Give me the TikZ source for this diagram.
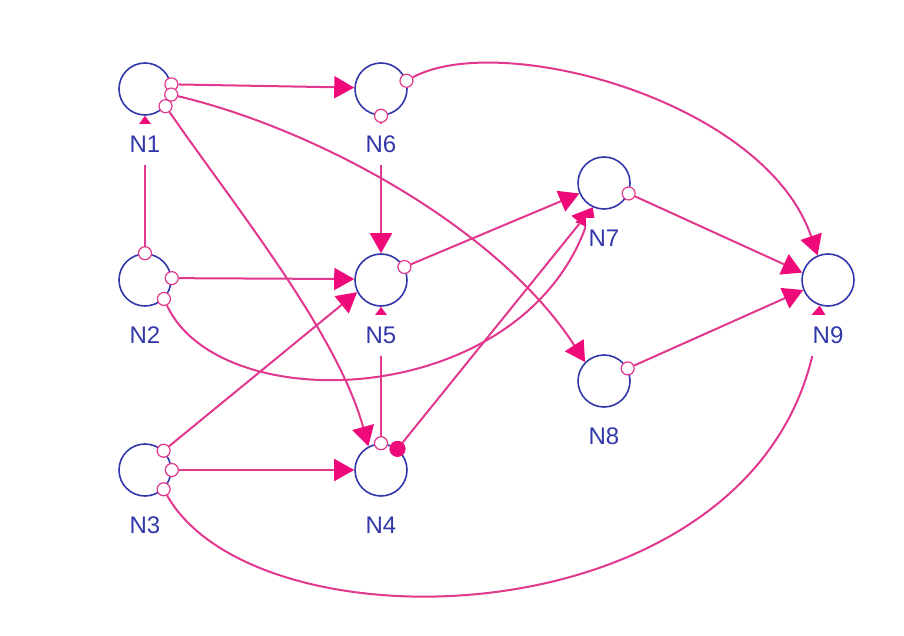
\documentclass[tikz,border=0pt]{standalone}
\usepackage{fontspec}
\setmainfont{Liberation Sans}
\usepackage{xcolor}
\usetikzlibrary{arrows.meta,positioning}
\definecolor{nodeblue}{RGB}{50,56,170}
\definecolor{linkpink}{RGB}{225,55,140}
\definecolor{tippink}{RGB}{238,10,120}

\begin{document}
\begin{tikzpicture}[x=0.5pt, y=-0.5pt,
    var/.style={draw=nodeblue, circle, line width=0.8pt, minimum size=26pt, inner sep=0pt},
    lab/.style={fill=white, text=nodeblue, font=\fontsize{12}{14}\selectfont, inner xsep=1.5pt, inner ysep=6pt},
    port/.style={draw=linkpink, fill=white, circle, line width=0.6pt, minimum size=6.5pt, inner sep=0pt},
    dot/.style={port, fill=tippink, draw=tippink, minimum size=7.5pt},
    arr/.style={-{Triangle[length=10pt, width=11pt, color=tippink]}, draw=linkpink, line width=1pt},
    arrs/.style={-{Triangle[length=5pt, width=7pt, color=tippink]}, draw=linkpink, line width=1pt}
]
\useasboundingbox (0,0) rectangle (904,636);
\node[var] (N1) at (145,89) {};
\node[var] (N2) at (145,280) {};
\node[var] (N3) at (145,470) {};
\node[var] (N6) at (381,89) {};
\node[var] (N5) at (381,280) {};
\node[var] (N4) at (381,470) {};
\node[var] (N7) at (604,183) {};
\node[var] (N8) at (604,381) {};
\node[var] (N9) at (828,280) {};
% ports
\node[port] (p1a) at (N1.10) {};
\node[port] (p1b) at (N1.-12) {};
\node[port] (p1c) at (N1.-40) {};
\node[port] (p2a) at (N2.north) {};
\node[port] (p2b) at (N2.4) {};
\node[port] (p2c) at (N2.-45) {};
\node[port] (p3a) at (N3.46) {};
\node[port] (p3b) at (N3.east) {};
\node[port] (p3c) at (N3.-46) {};
\node[port] (p6a) at (N6.18) {};
\node[port] (p6b) at (N6.south) {};
\node[port] (p5a) at (N5.29) {};
\node[port] (p4a) at (N4.north) {};
\node[dot] (p4b) at (N4.52) {};
\node[port] (p7a) at (N7.-23) {};
\node[port] (p8a) at (N8.28) {};
% links
\draw[arr] (p1a) -- (N6.177);
\draw[arr] (p1b) .. controls (320,130) and (500,230) .. (N8.135);
\draw[arr] (p1c) .. controls (233,204) and (337,332) .. (N4.118);
\draw[arrs] (p2a) -- (N1.south);
\draw[arr] (p2b) -- (N5.178);
\draw[arr] (p2c) .. controls (220,420) and (520,410) .. (N7.-115);
\draw[arr] (p3a) -- (N5.-153);
\draw[arr] (p3b) -- (N4.west);
\draw[arrs] (p3c) .. controls (260,660) and (790,640) .. (N9.-108);
\draw[arr] (p6b) -- (N5.north);
\draw[arr] (p6a) .. controls (500,30) and (765,100) .. (N9.113);
\draw[arr] (p5a) -- (N7.-157);
\draw[arrs] (p4a) -- (N5.south);
\draw[arr] (p4b) -- (N7.-115);
\draw[arr] (p7a) -- (N9.164);
\draw[arr] (p8a) -- (N9.-158);
% labels
\node[lab, below=4pt of N1] (l1) {N1};
\node[lab, below=4pt of N2] (l2) {N2};
\node[lab, below=4pt of N3] (l3) {N3};
\node[lab, below=4pt of N4] (l4) {N4};
\node[lab, below=4pt of N5] (l5) {N5};
\node[lab, below=4pt of N6] (l6) {N6};
\node[lab, below=4pt of N7] (l7) {N7};
\node[lab, below=4pt of N8] (l8) {N8};
\node[lab, below=4pt of N9] (l9) {N9};
\end{tikzpicture}
\end{document}
